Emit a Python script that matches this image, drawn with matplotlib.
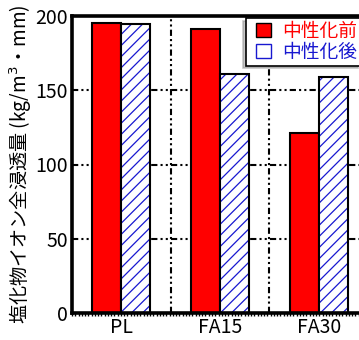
import matplotlib.pyplot as plt
import matplotlib.patches as mpatches
from matplotlib.legend_handler import HandlerPatch
import numpy as np

plt.rcParams['font.family'] = ['Noto Sans CJK JP', 'DejaVu Sans']
plt.rcParams['hatch.linewidth'] = 0.9

categories = ['PL', 'FA15', 'FA30']
before = [195, 191, 121]   # 中性化前
after = [194.5, 161, 159]  # 中性化後
yticks = [0, 50, 100, 150, 200]

RED = '#ff0000'
BLUE = '#1818d0'

fig = plt.figure(figsize=(3.59, 3.40), dpi=100)
ax = fig.add_axes([72 / 359, 27 / 340, 296 / 359, 297 / 340])

x = np.arange(len(categories))
w = 0.295

# grid first so bars sit on top
dashdot2 = (0, (3, 1.5, 1, 1.5, 1, 1.5))
for yv in yticks[1:-1]:
    ax.axhline(yv, color='black', lw=1.5, ls=dashdot2, zorder=1)
for xv in x[:-1] + 0.5:
    ax.axvline(xv, color='black', lw=1.5, ls=dashdot2, zorder=1)

ax.bar(x - w / 2, before, w, color=RED, edgecolor='black', lw=1.5, zorder=2)
ax.bar(x + w / 2, after, w, color='white', edgecolor=BLUE, hatch='///', lw=0, zorder=2)
ax.bar(x + w / 2, after, w, fill=False, edgecolor='black', lw=1.5, zorder=3)

ax.set_xlim(-0.5, len(categories) - 0.5)
ax.set_ylim(0, 200)
ax.set_yticks(yticks)
ax.set_xticks(x)
ax.set_xticklabels(categories)
ax.set_xticks(np.arange(-0.5, 2.5, 0.033), minor=True)
ax.tick_params(axis='x', which='minor', direction='out', length=2, width=1)
ax.tick_params(axis='both', which='major', length=0, labelsize=14, pad=3)
for s in ax.spines.values():
    s.set_linewidth(2.6)

ax.set_ylabel('塩化物イオン全浸透量 (kg/m$^3$・mm)', fontsize=13.8, labelpad=1)


# legend keys drawn at the right end of a wider handle box
def right_square(legend, orig_handle, xdescent, ydescent, width, height, fontsize):
    side = 11
    return mpatches.Rectangle((width - side - xdescent, -ydescent + (height - 10) / 2), side, 10)


h1 = mpatches.Patch(facecolor=RED, edgecolor='black', lw=1)
h2 = mpatches.Patch(facecolor='white', edgecolor=BLUE, hatch='/', lw=1)
leg = ax.legend([h1, h2], ['中性化前', '中性化後'], loc='upper left',
                bbox_to_anchor=(246 / 359, 1 - 18 / 340), bbox_transform=fig.transFigure,
                fontsize=13.5, frameon=True, fancybox=False, edgecolor='black',
                shadow={'ox': -2, 'oy': -2, 'color': '#909090'},
                handler_map={mpatches.Patch: HandlerPatch(patch_func=right_square)},
                handlelength=1.2, handleheight=0.75, handletextpad=0.6,
                labelspacing=0.0, borderpad=0.15, borderaxespad=0)
leg.get_frame().set_linewidth(1.2)
leg.set_zorder(5)
for t, c in zip(leg.get_texts(), [RED, BLUE]):
    t.set_color(c)

fig.savefig('out.png', dpi=100)
